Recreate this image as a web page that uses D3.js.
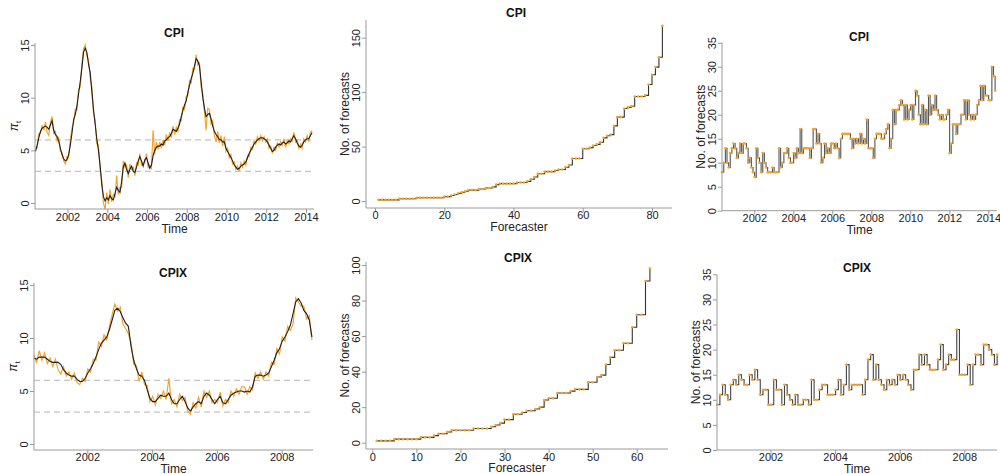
<!DOCTYPE html>
<html>
<head>
<meta charset="utf-8">
<script src="https://cdn.jsdelivr.net/npm/d3@7"></script>
<style>
body { margin: 0; background: #fff; }
svg { font-family: "Liberation Sans", Arial, sans-serif; }
</style>
</head>
<body>
<svg id="chart" width="1000" height="474"></svg>
<script>
// ---- data ----

// CPI inflation, monthly, from mid 2000
const cpiStart = 2000.39
const cpiActual = [
  4.9,5.5,6.2,6.8,7.1,7.2,7.3,7.2,7.0,7.4,7.8,6.9,
  6.5,6.3,5.9,5.2,4.6,4.2,4.0,4.1,4.6,5.5,6.6,7.9,
  8.4,9.2,10.4,11.5,12.8,14.3,14.7,14.3,13.2,12.4,10.6,8.9,
  7.5,6.1,5.0,3.6,1.8,0.6,0.2,0.5,0.3,0.7,0.4,0.3,
  0.9,1.5,1.2,1.0,2.0,3.4,3.8,3.2,2.8,3.2,3.5,3.0,
  2.9,3.4,4.0,4.4,4.0,3.5,4.1,4.3,3.8,3.3,3.6,4.5,
  5.0,5.3,5.4,5.4,5.6,5.5,5.9,6.0,6.2,6.3,6.6,7.0,
  6.9,6.8,7.1,7.5,8.2,8.8,9.3,9.7,10.5,11.2,11.8,12.3,
  13.0,13.7,13.5,13.0,11.5,10.0,9.0,8.2,8.4,8.5,8.0,7.3,
  6.8,6.5,6.3,6.0,6.0,5.8,5.8,5.2,4.9,4.6,4.3,4.0,
  3.6,3.4,3.2,3.3,3.5,3.6,3.7,3.9,4.3,4.7,5.0,5.3,
  5.6,5.8,6.0,6.1,6.2,6.2,6.1,6.0,5.8,5.5,5.2,4.9,
  5.0,5.3,5.5,5.6,5.5,5.7,5.8,5.6,5.7,5.9,5.8,6.1,
  6.4,6.1,5.7,5.4,5.3,5.5,5.8,6.0,6.1,6.1,6.4,6.7
]
// orange series: distance of the forecasts from the black line
const cpiDev = [
  0.2,-0.3,0.4,-0.2,0.3,-0.3,0.4,-0.5,-0.6,0.3,0.4,-0.3,
  0.3,-0.4,0.3,-0.3,0.2,-0.2,-0.3,0.3,-0.3,0.4,0.5,-0.3,
  0.5,-0.4,0.4,-0.5,0.4,0.3,0.3,-0.3,0.4,-0.5,0.5,-0.4,
  0.4,-0.5,0.5,-0.4,0.3,-0.6,-0.8,0.5,-0.4,0.6,-0.3,0.5,
  -0.3,1.1,-0.4,0.5,-0.5,0.6,-0.4,0.4,-0.4,0.5,-0.3,0.4,
  -0.3,0.4,-0.4,0.3,-0.4,0.3,-0.3,0.4,-0.4,0.3,-0.3,2.4,
  -0.4,0.5,-0.3,0.4,-0.4,0.5,-0.4,0.5,-0.3,0.4,-0.4,0.3,
  -0.4,0.4,-0.3,0.4,-0.4,0.3,-0.4,0.4,-0.3,0.4,-0.4,0.5,
  -0.3,0.4,-0.4,0.3,-0.5,0.4,-0.3,-1.3,0.6,0.4,-0.5,0.5,
  -0.4,-0.7,0.5,-0.3,0.4,-0.4,0.5,-0.3,0.3,-0.3,0.3,-0.3,
  0.3,-0.2,0.3,-0.3,0.3,-0.2,0.3,-0.3,0.2,-0.3,0.3,-0.2,
  0.3,-0.2,0.3,-0.2,0.2,-0.3,0.2,-0.2,0.3,-0.3,0.2,-0.2,
  0.3,-0.3,0.2,-0.3,0.3,-0.2,0.3,-0.3,0.2,-0.3,0.3,-0.2,
  0.3,-0.3,0.3,-0.2,0.3,-0.3,0.3,-0.2,0.3,-0.3,0.3,0.2
]

// CPIX inflation, monthly
const cpixStart = 2000.35
const cpixActual = [
  8.1,8.0,8.2,8.2,8.2,8.0,7.8,7.7,7.7,7.7,7.5,7.0,
  6.7,6.5,6.4,6.4,6.1,5.9,5.9,6.2,6.7,7.1,7.6,8.2,
  8.9,9.5,9.8,10.1,10.8,11.7,12.6,12.8,12.5,11.9,11.4,11.1,
  9.2,7.9,7.1,6.5,6.4,6.0,5.1,4.3,4.0,4.0,4.3,4.6,
  4.5,4.5,4.8,4.2,3.8,3.8,4.2,4.5,4.0,3.4,3.1,3.5,
  3.8,4.0,3.8,4.5,4.8,4.6,4.2,3.8,4.2,4.5,3.9,3.8,
  4.2,4.6,4.8,4.9,5.0,5.0,4.9,5.0,4.9,5.4,6.4,6.5,
  6.5,6.4,6.5,6.7,7.3,7.9,8.6,9.0,9.7,10.1,10.6,11.2,
  12.3,13.4,13.7,13.3,12.6,12.3,11.7,10.1
]
const cpixDev = [
  0.3,-0.3,0.6,-0.3,0.4,-0.4,0.3,-0.4,0.3,-0.7,-0.9,0.3,
  -0.3,0.3,-0.3,0.3,-0.3,-0.3,0.3,-0.3,0.4,-0.3,0.4,-0.3,
  0.7,-0.3,0.5,-0.3,0.3,0.5,0.6,-0.3,0.4,-0.6,-0.5,-0.7,
  0.4,-0.4,0.3,-0.6,0.4,-0.4,0.4,-0.3,0.5,-0.3,0.4,-0.3,
  0.5,-0.3,1.4,-0.4,0.4,-0.3,0.5,-0.4,0.4,-0.3,-0.3,0.4,
  -0.4,0.4,-0.3,0.5,-0.4,0.4,-0.3,0.4,-0.3,0.4,-0.3,0.4,
  -0.3,0.4,-0.3,0.3,-0.3,0.4,0.5,-0.3,0.5,-0.3,0.3,-0.3,
  0.3,-0.3,0.3,-0.3,0.4,-0.4,0.4,-0.5,0.4,-0.4,0.5,-0.5,
  -1.0,0.4,-0.3,-0.3,0.4,-0.5,0.4,-0.3
]

// number of forecasts per forecaster (sorted)
const cpiPerForecaster = [
  1,1,1,1,1,1,2,2,2,2,2,3,3,3,3,3,3,3,3,4,
  4,5,6,7,8,9,10,10,10,11,11,12,12,13,15,16,16,16,16,16,
  17,17,17,18,20,22,25,25,27,27,27,28,29,29,31,33,39,39,39,48,
  48,49,51,52,54,58,60,61,69,77,77,85,86,87,96,96,96,97,107,116,
  123,132,161
]
const cpixPerForecaster = [
  1,1,1,1,2,2,2,2,2,2,3,3,3,4,5,5,6,7,7,7,
  7,7,8,8,8,8,9,10,11,13,13,16,16,17,18,18,19,20,24,25,
  25,28,28,28,29,30,30,30,34,34,37,38,44,48,52,52,56,56,65,72,
  72,91,98
]

// number of forecasts per month
const countStart = 2000.35
const cpiPerMonth = [
  8,10,13,10,9,12,13,14,13,11,12,14,12,14,14,13,
  10,11,9,8,7,13,11,10,8,12,10,9,8,8,8,9,8,8,8,
  13,9,10,12,12,13,11,10,10,12,11,13,12,17,12,13,13,13,13,11,
  13,17,17,14,16,14,10,11,14,12,13,12,14,14,13,14,13,11,15,16,
  16,16,16,16,15,13,15,
  14,15,14,16,14,15,14,19,13,13,13,11,15,16,16,16,15,15,16,17,
  18,13,15,21,18,21,21,22,23,22,
  19,22,19,21,22,19,22,25,24,20,18,22,18,21,18,24,20,22,21,24,
  21,20,19,20,19,19,20,21,12,14,18,18,16,18,18,20,20,23,19,23,
  20,19,20,19,20,22,23,26,23,26,24,24,23,23,30,28,25
]
const cpixPerMonth = [
  9,11,13,11,10,13,14,13,15,14,
  13,13,15,14,16,14,11,12,12,9,
  9,14,12,12,9,13,11,10,9,11,
  9,9,10,10,9,14,10,10,12,13,
  13,11,11,11,12,14,11,13,17,12,
  13,13,13,13,11,14,18,19,14,17,
  14,13,12,14,13,14,13,15,14,15,
  14,13,12,16,16,19,17,19,17,16,
  16,16,18,21,16,17,19,18,18,24,
  15,15,15,17,13,17,19,19,17,21,
  21,20,19,17,19
]

// tick labels and reference lines
const yearTicksCpi = [2002, 2004, 2006, 2008, 2010, 2012, 2014]
const yearTicksCpix = [2002, 2004, 2006, 2008]
const inflationTicks = [0, 5, 10, 15]
const forecasterTicksCpi = [0, 20, 40, 60, 80]
const forecasterTicksCpix = [0, 10, 20, 30, 40, 50, 60]
const countTicksCpi = [0, 50, 100, 150]
const countTicksCpix = [0, 20, 40, 60, 80, 100]
const monthCountTicks = [0, 5, 10, 15, 20, 25, 30, 35]
const targetBand = [3, 6]

// ---- styles ----
const ORANGE = '#f4a42c'
const AXIS = '#9a9a9a'
const FONT = '"Liberation Sans", Arial, sans-serif'

const svg = d3.select('#chart')

// L-shaped frame, ticks and labels of one panel
function drawFrame(p, xTicks, yTicks, xTitle, yTitle, title) {
    const g = svg.append('g')
    g.append('line')
        .attr('x1', p.left).attr('x2', p.left).attr('y1', p.top).attr('y2', p.bottom)
        .attr('stroke', AXIS)
    g.append('line')
        .attr('x1', p.left).attr('x2', p.right).attr('y1', p.bottom).attr('y2', p.bottom)
        .attr('stroke', AXIS)

    const xAxis = d3.axisBottom(p.x).tickValues(xTicks).tickFormat(d3.format('d'))
        .tickSize(4).tickSizeOuter(0)
    const xg = g.append('g').attr('transform', `translate(0,${p.bottom})`).call(xAxis)
    xg.select('.domain').remove()
    xg.selectAll('line').attr('stroke', AXIS)
    xg.selectAll('text')
        .attr('font-family', FONT).attr('font-size', 11).attr('fill', '#222')
        .attr('y', p.tickGap).attr('dy', 0)

    const yAxis = d3.axisLeft(p.y).tickValues(yTicks).tickFormat(d3.format('d'))
        .tickSize(4).tickSizeOuter(0)
    const yg = g.append('g').attr('transform', `translate(${p.left},0)`).call(yAxis)
    yg.select('.domain').remove()
    yg.selectAll('line').attr('stroke', AXIS)
    yg.selectAll('text')
        .attr('font-family', FONT).attr('font-size', 11).attr('fill', '#222')
        .attr('text-anchor', 'middle')
        .attr('x', 0).attr('y', 0).attr('dy', 0)
        .attr('transform', 'translate(-6,0) rotate(-90)')

    const cx = (p.left + p.right) / 2
    const cy = (p.top + p.bottom) / 2
    g.append('text').attr('x', cx).attr('y', p.bottom + p.titleGap)
        .attr('text-anchor', 'middle').attr('font-size', 12).attr('fill', '#222')
        .text(xTitle)

    const yl = g.append('text')
        .attr('transform', `translate(${p.left - 17},${cy}) rotate(-90)`)
        .attr('text-anchor', 'middle').attr('font-size', 12).attr('fill', '#222')
    if (yTitle === 'pi') {
        yl.append('tspan').attr('font-style', 'italic').text('π')
        yl.append('tspan').attr('font-size', 8).attr('dy', 3).text('t')
    } else {
        yl.text(yTitle)
    }

    g.append('text').attr('x', p.titleX).attr('y', p.titleY)
        .attr('text-anchor', 'middle').attr('font-size', 12).attr('font-weight', 'bold')
        .attr('fill', '#111')
        .text(title)
}

function drawInflation(p, start, actual, dev) {
    const t = i => start + i / 12
    const g = svg.append('g')
    targetBand.forEach(v => {
        g.append('line')
            .attr('x1', p.left).attr('x2', p.right)
            .attr('y1', p.y(v)).attr('y2', p.y(v))
            .attr('stroke', '#c4c4c4').attr('stroke-width', 1.3)
            .attr('stroke-dasharray', '6,4')
    })
    const line = d3.line().x(d => p.x(d.t)).y(d => p.y(d.v))
    const fc = actual.map((v, i) => ({ t: t(i), v: v + dev[i] }))
    const ac = actual.map((v, i) => ({ t: t(i), v: v }))
    g.append('path').datum(fc).attr('d', line)
        .attr('fill', 'none').attr('stroke', ORANGE).attr('stroke-width', 1.2)
    g.append('path').datum(ac).attr('d', line)
        .attr('fill', 'none').attr('stroke', '#1e1e1e').attr('stroke-width', 1.1)
}

function drawSteps(p, data, color) {
    const g = svg.append('g')
    const line = d3.line().curve(d3.curveStepAfter).x(d => p.x(d.x)).y(d => p.y(d.v))
    g.append('path').datum(data).attr('d', line)
        .attr('fill', 'none').attr('stroke', color).attr('stroke-width', 1.1)
    g.selectAll('circle').data(data).enter().append('circle')
        .attr('cx', d => p.x(d.x)).attr('cy', d => p.y(d.v)).attr('r', 1.3)
        .attr('fill', ORANGE)
}

// ---- panels ----
const p1 = {
    left: 35, right: 314, top: 43, bottom: 209, tickGap: 12, titleGap: 24,
    x: d3.scaleLinear([2002, 2014], [67.5, 306]),
    y: d3.scaleLinear([0, 15], [203, 45]),
    titleX: 174, titleY: 37
}
const p2 = {
    left: 366, right: 672, top: 20, bottom: 208, tickGap: 11, titleGap: 23,
    x: d3.scaleLinear([0, 80], [375, 652]),
    y: d3.scaleLinear([0, 150], [201, 37.7]),
    titleX: 516, titleY: 17
}
const p3 = {
    left: 722, right: 997, top: 42.7, bottom: 210.7, tickGap: 11, titleGap: 23,
    x: d3.scaleLinear([2002, 2014], [754.3, 988.3]),
    y: d3.scaleLinear([0, 35], [210.7, 42.7]),
    titleX: 859, titleY: 41
}
const p4 = {
    left: 34, right: 313, top: 283, bottom: 450, tickGap: 11, titleGap: 22.5,
    x: d3.scaleLinear([2002, 2008], [87.3, 281.7]),
    y: d3.scaleLinear([0, 15], [444, 285]),
    titleX: 173, titleY: 277
}
const p5 = {
    left: 366, right: 668, top: 262, bottom: 449, tickGap: 11.5, titleGap: 23,
    x: d3.scaleLinear([0, 60], [372.3, 636.7]),
    y: d3.scaleLinear([0, 100], [442.7, 265]),
    titleX: 518, titleY: 262
}
const p6 = {
    left: 717, right: 997, top: 274.3, bottom: 450, tickGap: 11, titleGap: 22.5,
    x: d3.scaleLinear([2002, 2008], [770.5, 964.3]),
    y: d3.scaleLinear([0, 35], [450, 274.3]),
    titleX: 857, titleY: 272
}

// CPI row
drawInflation(p1, cpiStart, cpiActual, cpiDev)
drawFrame(p1, yearTicksCpi, inflationTicks, 'Time', 'pi', 'CPI')

drawSteps(p2, cpiPerForecaster.map((v, i) => ({ x: i + 1, v })), '#333')
drawFrame(p2, forecasterTicksCpi, countTicksCpi, 'Forecaster', 'No. of forecasts', 'CPI')

drawSteps(p3, cpiPerMonth.map((v, i) => ({ x: countStart + i / 12, v })), '#555')
drawFrame(p3, yearTicksCpi, monthCountTicks, 'Time', 'No. of forecasts', 'CPI')

// CPIX row
drawInflation(p4, cpixStart, cpixActual, cpixDev)
drawFrame(p4, yearTicksCpix, inflationTicks, 'Time', 'pi', 'CPIX')

drawSteps(p5, cpixPerForecaster.map((v, i) => ({ x: i + 1, v })), '#333')
drawFrame(p5, forecasterTicksCpix, countTicksCpix, 'Forecaster', 'No. of forecasts', 'CPIX')

drawSteps(p6, cpixPerMonth.map((v, i) => ({ x: countStart + i / 12, v })), '#444')
drawFrame(p6, yearTicksCpix, monthCountTicks, 'Time', 'No. of forecasts', 'CPIX')
</script>
</body>
</html>
